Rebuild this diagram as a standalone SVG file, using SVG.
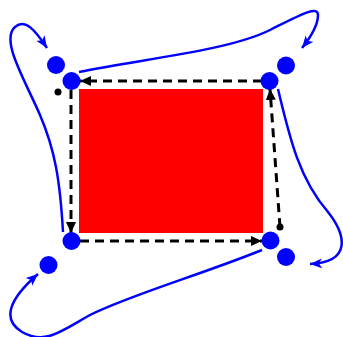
<svg xmlns="http://www.w3.org/2000/svg" width="343" height="337" viewBox="0 0 343 337">
<style>
.blue{fill:none;stroke:#0000ff;stroke-width:2.5}
.dash{fill:none;stroke:#000;stroke-width:3;stroke-dasharray:9,6}
.node{fill:#0000ff}
.dot{fill:#000}
</style>
<defs>
<marker id="ab" markerUnits="userSpaceOnUse" markerWidth="14" markerHeight="12" viewBox="0 0 14 12" refX="12" refY="6" orient="auto">
<path d="M0,1 L12,6 L0,11 L3,6 z" fill="#0000ff"/>
</marker>
<marker id="ak" markerUnits="userSpaceOnUse" markerWidth="12" markerHeight="12" viewBox="0 0 12 12" refX="11" refY="6" orient="auto">
<path d="M0,1 L11,6 L0,11 z" fill="#000"/>
</marker>
</defs>
<rect x="79" y="89" width="184" height="144" fill="#ff0000"/>
<g id="connectors">
<path class="blue" d="M79,72 C150,58 230,50 270,30 C300,15 318,5 318,15 C318,25 310,38 302,48" marker-end="url(#ab)"/>
<path class="blue" d="M278,89 C290,140 300,180 328,212 C346,235 352,262 310,264" marker-end="url(#ab)"/>
<path class="blue" d="M262,250 C200,275 130,295 90,315 C60,332 45,345 22,332 C2,320 8,300 38,274" marker-end="url(#ab)"/>
<path class="blue" d="M63,232 C60,180 55,150 40,115 C25,80 0,40 15,27 C25,18 35,30 47,48" marker-end="url(#ab)"/>
<path class="dash" d="M262,81 L80,81" marker-end="url(#ak)"/>
<path class="dash" d="M71,90 L71,233" marker-end="url(#ak)"/>
<path class="dash" d="M80,241 L262,241" marker-end="url(#ak)"/>
<path class="dash" d="M280,227 L270,89" marker-end="url(#ak)"/>
</g>
<g id="dot-tl"><circle class="dot" cx="58" cy="92" r="3.5"/></g>
<g id="dot-br"><circle class="dot" cx="280" cy="227" r="3.5"/></g>
<g id="n-tl-outer"><circle class="node" cx="56" cy="65" r="9"/></g>
<g id="n-tl-inner"><circle class="node" cx="71.5" cy="81" r="9"/></g>
<g id="n-tr-outer"><circle class="node" cx="286" cy="65.5" r="9"/></g>
<g id="n-tr-inner"><circle class="node" cx="269.5" cy="81" r="9"/></g>
<g id="n-bl-inner"><circle class="node" cx="71.5" cy="241" r="9"/></g>
<g id="n-bl-outer"><circle class="node" cx="48.5" cy="265" r="9"/></g>
<g id="n-br-inner"><circle class="node" cx="270.5" cy="240.5" r="9"/></g>
<g id="n-br-outer"><circle class="node" cx="286" cy="257" r="9"/></g>
</svg>
